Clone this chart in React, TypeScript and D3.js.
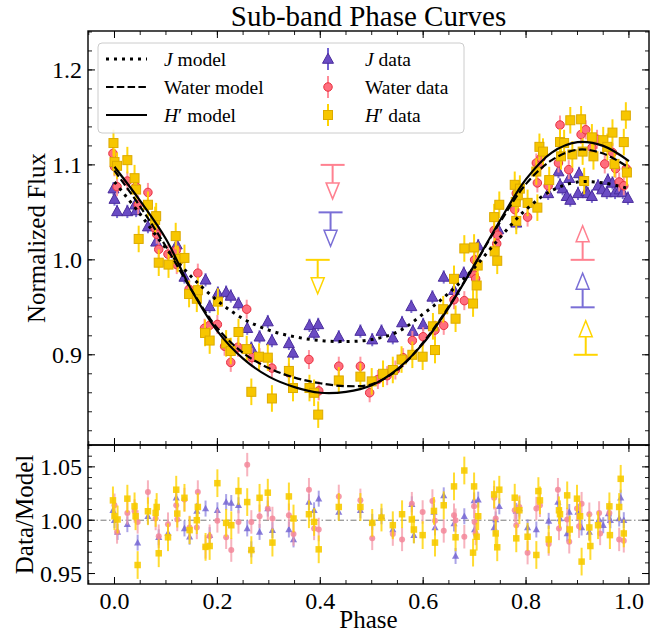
import React from "react";
import * as d3 from "d3";

const W = 663;
const H = 633;

// ---- text ----
const titleText = "Sub-band Phase Curves";
const xLabel = "Phase";
const yLabelTop = "Normalized Flux";
const yLabelBottom = "Data/Model";

// ---- ticks ----
const xTicks = [0.0, 0.2, 0.4, 0.6, 0.8, 1.0];
const topYTicks = [0.9, 1.0, 1.1, 1.2];
const botYTicks = [0.95, 1.0, 1.05];

// ---- models (read at a 0.05 phase grid) ----
const modelPhase = [0, 0.05, 0.1, 0.15, 0.2, 0.25, 0.3, 0.35, 0.4, 0.45, 0.5, 0.55, 0.6, 0.65, 0.7, 0.75, 0.8, 0.85, 0.9, 0.95, 1.0];
const jModel = [1.082, 1.048, 1.012, 0.982, 0.957, 0.938, 0.926, 0.919, 0.915, 0.914, 0.916, 0.924, 0.943, 0.965, 0.992, 1.024, 1.053, 1.073, 1.082, 1.081, 1.075];
const waterModel = [1.094, 1.056, 1.014, 0.968, 0.928, 0.902, 0.886, 0.876, 0.870, 0.867, 0.869, 0.884, 0.913, 0.951, 0.995, 1.040, 1.080, 1.105, 1.116, 1.112, 1.097];
const hModel = [1.098, 1.062, 1.022, 0.968, 0.925, 0.896, 0.877, 0.866, 0.860, 0.861, 0.868, 0.885, 0.912, 0.950, 0.995, 1.042, 1.085, 1.113, 1.124, 1.120, 1.104];

// ---- J data (top) ----
const jPhase = [-0.002, 0.0, 0.005, 0.025, 0.040, 0.042, 0.065, 0.081, 0.121, 0.136, 0.177, 0.185, 0.201, 0.217, 0.226, 0.241, 0.258, 0.266, 0.282, 0.298, 0.306, 0.339, 0.347, 0.379, 0.388, 0.396, 0.436, 0.478, 0.501, 0.519, 0.541, 0.559, 0.577, 0.580, 0.600, 0.618, 0.640, 0.660, 0.679, 0.707, 0.746, 0.781, 0.843, 0.863, 0.866, 0.871, 0.879, 0.884, 0.886, 0.901, 0.903, 0.917, 0.920, 0.928, 0.940, 0.948, 0.957, 0.959, 0.968, 0.973, 0.982, 0.988, 0.998];
const jFlux = [1.075, 1.064, 1.051, 1.051, 1.058, 1.052, 1.035, 1.019, 1.016, 0.982, 0.979, 0.951, 0.965, 0.966, 0.962, 0.954, 0.928, 0.907, 0.919, 0.935, 0.915, 0.912, 0.902, 0.931, 0.923, 0.932, 0.919, 0.925, 0.916, 0.925, 0.918, 0.934, 0.951, 0.925, 0.932, 0.961, 0.982, 0.968, 0.986, 1.015, 1.032, 1.039, 1.070, 1.093, 1.079, 1.075, 1.067, 1.086, 1.063, 1.070, 1.091, 1.072, 1.070, 1.067, 1.078, 1.074, 1.071, 1.084, 1.081, 1.071, 1.074, 1.071, 1.065];
const jErr = 0.007;

// ---- Water data (top) ----
const wPhase = [-0.003, 0.0, 0.005, 0.025, 0.042, 0.046, 0.065, 0.079, 0.082, 0.086, 0.104, 0.120, 0.121, 0.145, 0.162, 0.175, 0.185, 0.200, 0.214, 0.226, 0.240, 0.257, 0.267, 0.282, 0.306, 0.339, 0.378, 0.397, 0.436, 0.478, 0.496, 0.512, 0.530, 0.546, 0.561, 0.579, 0.600, 0.623, 0.640, 0.660, 0.680, 0.699, 0.702, 0.700, 0.738, 0.743, 0.745, 0.778, 0.781, 0.803, 0.820, 0.822, 0.826, 0.829, 0.843, 0.863, 0.866, 0.883, 0.907, 0.916, 0.928, 0.938, 0.953, 0.968, 0.974, 0.981, 0.990, 0.995];
const wFlux = [1.112, 1.098, 1.077, 1.083, 1.077, 1.058, 1.071, 1.033, 1.027, 1.011, 1.006, 1.010, 0.995, 0.969, 0.986, 0.928, 0.931, 0.932, 0.909, 0.892, 0.908, 0.948, 0.897, 0.897, 0.886, 0.881, 0.895, 0.862, 0.888, 0.888, 0.860, 0.874, 0.878, 0.884, 0.897, 0.915, 0.919, 0.926, 0.931, 0.958, 0.957, 0.984, 0.980, 1.000, 1.031, 1.017, 1.026, 1.053, 1.070, 1.045, 1.102, 1.081, 1.099, 1.107, 1.078, 1.102, 1.142, 1.095, 1.132, 1.137, 1.118, 1.127, 1.101, 1.113, 1.096, 1.082, 1.078, 1.096];
const wErr = 0.010;

// ---- H' data (top) ----
const hPhase = [-0.002, 0.0, 0.005, 0.025, 0.039, 0.042, 0.047, 0.065, 0.079, 0.081, 0.086, 0.105, 0.119, 0.123, 0.136, 0.145, 0.160, 0.162, 0.176, 0.185, 0.201, 0.217, 0.226, 0.241, 0.257, 0.266, 0.281, 0.298, 0.306, 0.339, 0.347, 0.379, 0.388, 0.396, 0.436, 0.478, 0.500, 0.522, 0.541, 0.558, 0.579, 0.599, 0.619, 0.623, 0.639, 0.660, 0.663, 0.680, 0.697, 0.699, 0.704, 0.706, 0.738, 0.739, 0.744, 0.748, 0.778, 0.780, 0.781, 0.784, 0.788, 0.803, 0.820, 0.822, 0.826, 0.833, 0.845, 0.866, 0.868, 0.874, 0.886, 0.890, 0.907, 0.910, 0.913, 0.928, 0.931, 0.950, 0.958, 0.968, 0.972, 0.990, 0.994, 0.996];
const hFlux = [1.123, 1.103, 1.099, 1.105, 1.086, 1.074, 1.022, 1.058, 1.042, 1.046, 0.997, 0.995, 1.025, 1.001, 1.002, 0.964, 0.959, 0.968, 0.923, 0.915, 0.956, 0.912, 0.904, 0.924, 0.906, 0.861, 0.898, 0.897, 0.854, 0.883, 0.865, 0.865, 0.860, 0.837, 0.873, 0.877, 0.872, 0.880, 0.884, 0.895, 0.900, 0.898, 0.930, 0.905, 0.948, 0.980, 0.938, 1.012, 0.954, 1.013, 0.973, 0.994, 1.045, 1.009, 0.999, 1.058, 1.079, 1.061, 1.041, 1.068, 1.075, 1.060, 1.093, 1.055, 1.119, 1.114, 1.084, 1.124, 1.109, 1.123, 1.147, 1.111, 1.148, 1.114, 1.083, 1.129, 1.109, 1.126, 1.119, 1.134, 1.101, 1.124, 1.152, 1.092];
const hErr = 0.014;

// ---- residuals (bottom) ----
const jResPhase = [-0.003, 0.0, 0.006, 0.025, 0.045, 0.065, 0.086, 0.104, 0.120, 0.136, 0.146, 0.160, 0.177, 0.185, 0.200, 0.217, 0.227, 0.241, 0.258, 0.266, 0.282, 0.298, 0.307, 0.339, 0.348, 0.378, 0.388, 0.397, 0.436, 0.478, 0.501, 0.519, 0.541, 0.578, 0.582, 0.621, 0.623, 0.640, 0.660, 0.663, 0.680, 0.699, 0.700, 0.707, 0.738, 0.741, 0.748, 0.781, 0.787, 0.803, 0.820, 0.844, 0.862, 0.866, 0.880, 0.884, 0.901, 0.908, 0.923, 0.942, 0.950, 0.960, 0.964, 0.981, 0.984, 0.990];
const jRes = [1.0093, 1.0, 0.989, 0.9963, 0.979, 1.0037, 0.984, 0.988, 1.021, 0.9923, 0.9845, 1.0087, 1.0109, 0.986, 1.0093, 1.017, 1.0161, 1.014, 0.9923, 0.9727, 0.989, 1.0109, 0.9907, 0.9913, 0.982, 1.017, 1.0093, 1.0202, 1.0077, 1.0093, 0.9984, 1.0037, 0.9913, 1.0149, 0.986, 1.0077, 0.9932, 1.0233, 0.9969, 0.9665, 1.0037, 1.0186, 0.9913, 1.0193, 0.9932, 1.0007, 1.013, 1.0087, 1.0109, 0.9932, 0.9913, 0.9994, 1.017, 1.0016, 0.9876, 1.0077, 1.0077, 0.9932, 0.989, 1.0007, 0.9953, 1.0062, 1.0, 1.0016, 1.0211, 1.0];
const jResErr = 0.0075;

const wResPhase = [0.0, 0.005, 0.025, 0.039, 0.045, 0.065, 0.080, 0.086, 0.104, 0.120, 0.122, 0.136, 0.146, 0.160, 0.162, 0.177, 0.185, 0.200, 0.217, 0.227, 0.241, 0.258, 0.266, 0.282, 0.298, 0.307, 0.339, 0.348, 0.378, 0.388, 0.397, 0.436, 0.478, 0.501, 0.541, 0.559, 0.578, 0.599, 0.618, 0.623, 0.640, 0.660, 0.663, 0.680, 0.699, 0.700, 0.702, 0.738, 0.741, 0.778, 0.781, 0.787, 0.803, 0.820, 0.827, 0.844, 0.862, 0.864, 0.880, 0.884, 0.899, 0.903, 0.908, 0.923, 0.942, 0.944, 0.962, 0.981, 0.990];
const wRes = [1.014, 0.989, 1.0068, 1.0087, 0.9984, 1.0264, 1.0016, 0.985, 0.9963, 1.014, 1.0007, 1.0193, 0.9932, 0.9932, 1.0264, 0.975, 0.985, 0.9994, 0.984, 0.972, 0.9984, 1.0521, 0.9984, 1.0037, 1.0109, 1.0016, 1.0047, 0.987, 1.0286, 0.9923, 0.9913, 1.0223, 1.0186, 0.983, 0.987, 0.982, 1.0155, 1.0077, 1.018, 0.9994, 0.99, 1.0047, 1.0, 0.9845, 1.013, 0.9984, 0.9876, 1.0211, 1.0016, 1.0093, 0.9953, 1.0124, 0.9696, 1.0109, 1.014, 0.9777, 1.0286, 0.9923, 1.0007, 0.9798, 1.0109, 0.9944, 1.0155, 1.0056, 1.0068, 0.9876, 1.0068, 0.982, 0.9807];
const wResErr = 0.011;

const hResPhase = [-0.003, 0.0, 0.006, 0.025, 0.039, 0.041, 0.045, 0.065, 0.080, 0.082, 0.086, 0.104, 0.120, 0.122, 0.136, 0.146, 0.160, 0.162, 0.177, 0.185, 0.200, 0.217, 0.227, 0.241, 0.258, 0.266, 0.282, 0.298, 0.307, 0.339, 0.348, 0.378, 0.388, 0.397, 0.436, 0.478, 0.501, 0.519, 0.541, 0.559, 0.578, 0.582, 0.599, 0.621, 0.623, 0.640, 0.660, 0.663, 0.680, 0.697, 0.699, 0.704, 0.707, 0.738, 0.741, 0.744, 0.748, 0.778, 0.781, 0.787, 0.803, 0.820, 0.824, 0.827, 0.844, 0.864, 0.866, 0.880, 0.885, 0.899, 0.905, 0.908, 0.923, 0.925, 0.940, 0.962, 0.963, 0.981, 0.984, 0.990];
const hRes = [1.0186, 1.0037, 1.0007, 1.0202, 1.013, 1.0037, 0.958, 1.0084, 1.0068, 1.0124, 0.969, 0.984, 1.0286, 1.0062, 1.021, 0.9907, 1.0, 1.0124, 0.975, 0.9758, 1.0347, 0.9975, 0.9953, 1.0273, 1.017, 0.972, 1.021, 1.0258, 0.979, 1.0223, 1.0016, 1.0056, 0.9984, 0.9727, 1.0124, 1.0124, 0.9975, 1.0025, 0.9953, 1.0056, 1.0007, 0.9913, 0.986, 1.0087, 0.979, 1.014, 1.0317, 0.984, 1.0466, 0.9696, 1.0317, 0.9845, 1.0037, 1.0242, 0.9876, 0.9746, 1.0286, 1.0211, 0.983, 1.0093, 0.9845, 0.9674, 1.0273, 1.0186, 0.982, 1.0093, 1.0056, 1.0233, 0.9913, 1.0202, 1.0037, 0.9612, 0.9932, 0.9758, 0.9953, 1.013, 0.986, 1.0124, 1.0388, 0.9876];
const hResErr = 0.013;

// ---- limit arrows ----
const downPhase = [0.424, 0.420, 0.395];
const downFlux = [1.10, 1.05, 1.00];
const upPhase = [0.910, 0.910, 0.916];
const upFlux = [1.00, 0.95, 0.90];
const limitColors = ["#ff8190", "#7a6fd6", "#ffd500"];

// ---- layout ----
const L = 88, R = 649, T1 = 31, B1 = 445, T2 = 445, B2 = 584;
const FONT = "'Liberation Serif', 'DejaVu Serif', serif";

const x = d3.scaleLinear().domain([-0.0515, 1.039]).range([L, R]);
const y1 = d3.scaleLinear().domain([0.805, 1.241]).range([B1, T1]);
const y2 = d3.scaleLinear().domain([0.9402, 1.0705]).range([B2, T2]);

const COL = {
  j: { fill: "#6a4bc4", stroke: "#4a2c9c", err: "#7262d2" },
  w: { fill: "#ff6e7e", stroke: "#e8303f", err: "#ff8c98" },
  h: { fill: "#f7c600", stroke: "#dcaa00", err: "#ffd400" },
};
const RCOL = {
  j: { fill: "#7567d3", err: "#8f86e0" },
  w: { fill: "#f3879a", err: "#f59aa9" },
  h: { fill: "#f7cb00", err: "#ffd400" },
};

type Shape = "tri" | "circ" | "sq";

function Marker(props: { shape: Shape; cx: number; cy: number; s: number; fill: string; stroke?: string; sw?: number; op?: number }) {
  const { shape, cx, cy, s, fill, stroke, sw = 1, op = 1 } = props;
  if (shape === "circ") {
    return <circle cx={cx} cy={cy} r={s / 2} fill={fill} stroke={stroke || "none"} strokeWidth={sw} opacity={op} />;
  }
  if (shape === "sq") {
    return <rect x={cx - s / 2} y={cy - s / 2} width={s} height={s} fill={fill} stroke={stroke || "none"} strokeWidth={sw} opacity={op} />;
  }
  const h = s * 0.95;
  const p = `M${cx},${cy - h * 0.6}L${cx + s * 0.55},${cy + h * 0.45}L${cx - s * 0.55},${cy + h * 0.45}Z`;
  return <path d={p} fill={fill} stroke={stroke || "none"} strokeWidth={sw} opacity={op} />;
}

function Series(props: { px: number[]; py: number[]; err: number; ys: d3.ScaleLinear<number, number>; shape: Shape; s: number; fill: string; stroke?: string; errColor: string; errOp: number; op: number; ew: number }) {
  const { px, py, err, ys, shape, s, fill, stroke, errColor, errOp, op, ew } = props;
  return (
    <g>
      {px.map((p, i) => (
        <line key={"e" + i} x1={x(p)} x2={x(p)} y1={ys(py[i] - err)} y2={ys(py[i] + err)} stroke={errColor} strokeWidth={ew} opacity={errOp} />
      ))}
      {px.map((p, i) => (
        <Marker key={"m" + i} shape={shape} cx={x(p)} cy={ys(py[i])} s={s} fill={fill} stroke={stroke} op={op} />
      ))}
    </g>
  );
}

function Frame(props: { top: number; bottom: number; ys: d3.ScaleLinear<number, number>; yMajor: number[]; yMinorStep: number; showX: boolean; yFmt: (v: number) => string }) {
  const { top, bottom, ys, yMajor, yMinorStep, showX, yFmt } = props;
  const xMinor = d3.range(-0.05, 1.0501, 0.05).filter((v) => x(v) > L && x(v) < R);
  const [d0, d1] = ys.domain();
  const yMinor = d3.range(Math.ceil(d0 / yMinorStep) * yMinorStep, d1, yMinorStep).filter((v) => ys(v) < bottom - 0.5 && ys(v) > top + 0.5);
  const maj = 7, mn = 4;
  return (
    <g>
      {xMinor.map((v, i) => (
        <g key={"xm" + i}>
          <line x1={x(v)} x2={x(v)} y1={bottom} y2={bottom - mn} stroke="#000" strokeWidth={0.9} />
          <line x1={x(v)} x2={x(v)} y1={top} y2={top + mn} stroke="#000" strokeWidth={0.9} />
        </g>
      ))}
      {xTicks.map((v, i) => (
        <g key={"xM" + i}>
          <line x1={x(v)} x2={x(v)} y1={bottom} y2={bottom - maj} stroke="#000" strokeWidth={1} />
          <line x1={x(v)} x2={x(v)} y1={top} y2={top + maj} stroke="#000" strokeWidth={1} />
          {showX && (
            <text x={x(v)} y={bottom + 25} textAnchor="middle" fontFamily={FONT} fontSize={24}>
              {v.toFixed(1)}
            </text>
          )}
        </g>
      ))}
      {yMinor.map((v, i) => (
        <g key={"ym" + i}>
          <line x1={L} x2={L + mn} y1={ys(v)} y2={ys(v)} stroke="#000" strokeWidth={0.9} />
          <line x1={R} x2={R - mn} y1={ys(v)} y2={ys(v)} stroke="#000" strokeWidth={0.9} />
        </g>
      ))}
      {yMajor.map((v, i) => (
        <g key={"yM" + i}>
          <line x1={L} x2={L + maj} y1={ys(v)} y2={ys(v)} stroke="#000" strokeWidth={1} />
          <line x1={R} x2={R - maj} y1={ys(v)} y2={ys(v)} stroke="#000" strokeWidth={1} />
          <text x={L - 6} y={ys(v)} dy="0.35em" textAnchor="end" fontFamily={FONT} fontSize={24}>
            {yFmt(v)}
          </text>
        </g>
      ))}
      <rect x={L} y={top} width={R - L} height={bottom - top} fill="none" stroke="#000" strokeWidth={1.4} />
    </g>
  );
}

function LimitArrow(props: { px: number; py: number; color: string; dir: "down" | "up" }) {
  const { px, py, color, dir } = props;
  const cx = x(px);
  const cy = y1(py);
  const sgn = dir === "down" ? 1 : -1;
  const tip = cy + sgn * 34;
  const base = cy + sgn * 18;
  const hw = 6.5;
  return (
    <g>
      <line x1={cx - 12} x2={cx + 12} y1={cy} y2={cy} stroke={color} strokeWidth={2} />
      <line x1={cx} x2={cx} y1={cy} y2={base} stroke={color} strokeWidth={2} />
      <path d={`M${cx - hw},${base}L${cx + hw},${base}L${cx},${tip}Z`} fill="#fff" stroke={color} strokeWidth={1.5} />
    </g>
  );
}

export default function App() {
  const line1 = (vals: number[]) =>
    d3
      .line<number>()
      .x((_, i) => x(modelPhase[i]))
      .y((v) => y1(v))
      .curve(d3.curveCatmullRom)(vals) || "";

  const legY = [59, 87, 115];
  return (
    <svg width={W} height={H} style={{ position: "absolute", left: 0, top: 0, background: "#fff" }}>
      <rect x={0} y={0} width={W} height={H} fill="#fff" />
      <text x={(L + R) / 2} y={26} textAnchor="middle" fontFamily={FONT} fontSize={29}>
        {titleText}
      </text>

      <defs>
        <clipPath id="clipTop">
          <rect x={L} y={T1} width={R - L} height={B1 - T1} />
        </clipPath>
        <clipPath id="clipBot">
          <rect x={L} y={T2} width={R - L} height={B2 - T2} />
        </clipPath>
      </defs>

      {/* top panel */}
      <g clipPath="url(#clipTop)">
        <Series px={jPhase} py={jFlux} err={jErr} ys={y1} shape="tri" s={10} fill={COL.j.fill} stroke={COL.j.stroke} errColor={COL.j.err} errOp={0.9} op={1} ew={2} />
        <Series px={wPhase} py={wFlux} err={wErr} ys={y1} shape="circ" s={8.5} fill={COL.w.fill} stroke={COL.w.stroke} errColor={COL.w.err} errOp={0.9} op={1} ew={2} />
        <Series px={hPhase} py={hFlux} err={hErr} ys={y1} shape="sq" s={9} fill={COL.h.fill} stroke={COL.h.stroke} errColor={COL.h.err} errOp={0.95} op={1} ew={2} />
        <path d={line1(jModel)} fill="none" stroke="#000" strokeWidth={3} strokeDasharray="3 5" />
        <path d={line1(waterModel)} fill="none" stroke="#000" strokeWidth={2.2} strokeDasharray="7.5 3.3" />
        <path d={line1(hModel)} fill="none" stroke="#000" strokeWidth={2.2} />
        {downPhase.map((p, i) => (
          <LimitArrow key={"d" + i} px={p} py={downFlux[i]} color={limitColors[i]} dir="down" />
        ))}
        {upPhase.map((p, i) => (
          <LimitArrow key={"u" + i} px={p} py={upFlux[i]} color={limitColors[i]} dir="up" />
        ))}
      </g>
      <Frame top={T1} bottom={B1} ys={y1} yMajor={topYTicks} yMinorStep={0.02} showX={false} yFmt={(v) => v.toFixed(1)} />

      {/* legend */}
      <g fontFamily={FONT} fontSize={19.5}>
        <rect x={98} y={43} width={366} height={90} rx={4} fill="#fff" fillOpacity={0.85} stroke="#cccccc" strokeWidth={1} />
        <line x1={106} x2={147} y1={legY[0]} y2={legY[0]} stroke="#000" strokeWidth={3} strokeDasharray="3 5" />
        <line x1={106} x2={147} y1={legY[1]} y2={legY[1]} stroke="#000" strokeWidth={2.2} strokeDasharray="7.5 3.3" />
        <line x1={106} x2={147} y1={legY[2]} y2={legY[2]} stroke="#000" strokeWidth={2.2} />
        <text x={164} y={legY[0]} dy="0.35em">
          <tspan fontStyle="italic">J</tspan> model
        </text>
        <text x={164} y={legY[1]} dy="0.35em">
          Water model
        </text>
        <text x={164} y={legY[2]} dy="0.35em">
          <tspan fontStyle="italic">H</tspan>′ model
        </text>
        <line x1={328} x2={328} y1={legY[0] - 11} y2={legY[0] + 11} stroke={COL.j.err} strokeWidth={2} />
        <Marker shape="tri" cx={328} cy={legY[0]} s={10} fill={COL.j.fill} stroke={COL.j.stroke} />
        <line x1={328} x2={328} y1={legY[1] - 11} y2={legY[1] + 11} stroke={COL.w.err} strokeWidth={2} />
        <Marker shape="circ" cx={328} cy={legY[1]} s={8.5} fill={COL.w.fill} stroke={COL.w.stroke} />
        <line x1={328} x2={328} y1={legY[2] - 11} y2={legY[2] + 11} stroke={COL.h.err} strokeWidth={2} />
        <Marker shape="sq" cx={328} cy={legY[2]} s={9} fill={COL.h.fill} stroke={COL.h.stroke} />
        <text x={365} y={legY[0]} dy="0.35em">
          <tspan fontStyle="italic">J</tspan> data
        </text>
        <text x={365} y={legY[1]} dy="0.35em">
          Water data
        </text>
        <text x={365} y={legY[2]} dy="0.35em">
          <tspan fontStyle="italic">H</tspan>′ data
        </text>
      </g>

      {/* bottom panel */}
      <g clipPath="url(#clipBot)">
        <line x1={L} x2={R} y1={y2(1.0)} y2={y2(1.0)} stroke="#777" strokeWidth={1} strokeDasharray="6 2.5 1.5 2.5" />
        <Series px={jResPhase} py={jRes} err={jResErr} ys={y2} shape="tri" s={6.5} fill={RCOL.j.fill} errColor={RCOL.j.err} errOp={0.75} op={0.85} ew={2} />
        <Series px={wResPhase} py={wRes} err={wResErr} ys={y2} shape="circ" s={6} fill={RCOL.w.fill} errColor={RCOL.w.err} errOp={0.75} op={0.85} ew={2} />
        <Series px={hResPhase} py={hRes} err={hResErr} ys={y2} shape="sq" s={6.5} fill={RCOL.h.fill} errColor={RCOL.h.err} errOp={0.8} op={0.9} ew={2} />
      </g>
      <Frame top={T2} bottom={B2} ys={y2} yMajor={botYTicks} yMinorStep={0.01} showX={true} yFmt={(v) => v.toFixed(2)} />

      {/* axis labels */}
      <text x={(L + R) / 2} y={628} textAnchor="middle" fontFamily={FONT} fontSize={25}>
        {xLabel}
      </text>
      <text transform={`translate(45, ${(T1 + B1) / 2}) rotate(-90)`} textAnchor="middle" fontFamily={FONT} fontSize={25}>
        {yLabelTop}
      </text>
      <text transform={`translate(33, ${(T2 + B2) / 2}) rotate(-90)`} textAnchor="middle" fontFamily={FONT} fontSize={25}>
        {yLabelBottom}
      </text>
    </svg>
  );
}
